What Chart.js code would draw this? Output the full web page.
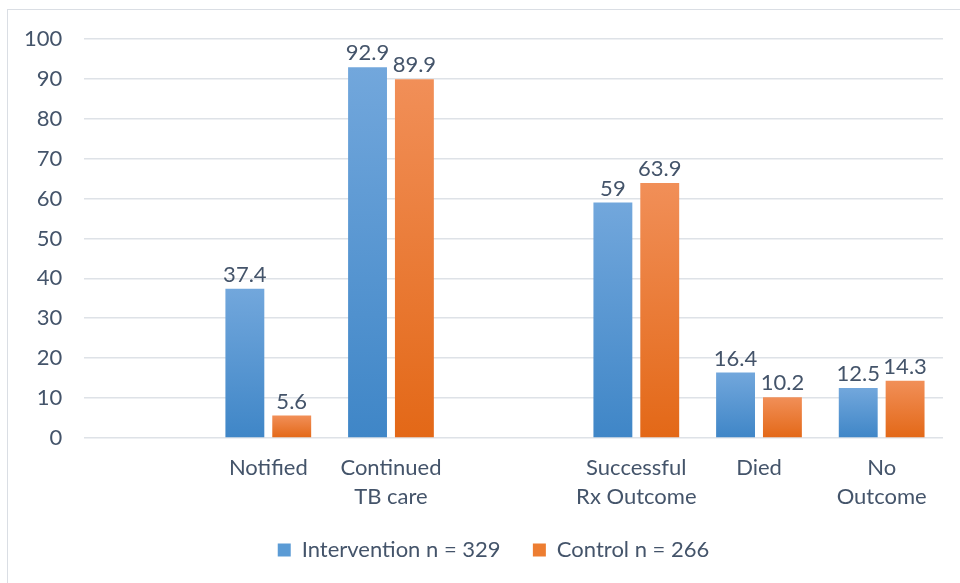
<!DOCTYPE html>
<html>
<head>
<meta charset="utf-8">
<script src="https://cdn.jsdelivr.net/npm/chart.js@4.4.0/dist/chart.umd.min.js"></script>
<style>
  html, body { margin: 0; padding: 0; background: #fff; }
  #frame { position: absolute; left: 7px; top: 9px; width: 1000px; height: 600px; border-top: 1.5px solid #dadee4; border-left: 1.5px solid #dadee4; }
  #wrap { position: absolute; left: 0; top: 0; width: 960px; height: 583px; }
</style>
</head>
<body>
<div id="frame"></div>
<div id="wrap"><canvas id="chart"></canvas></div>
<script>
const categorias = [[''], ['Notified'], ['Continued', 'TB care'], [''], ['Successful', 'Rx Outcome'], ['Died'], ['No', 'Outcome']];
const intervencion = [null, 37.4, 92.9, null, 59, 16.4, 12.5];
const control = [null, 5.6, 89.9, null, 63.9, 10.2, 14.3];
const nombres = ['Intervention n = 329', 'Control n = 266'];

const fuente = 'Lato, "Open Sans", sans-serif';
const textoColor = '#44546A';

function degradado(arriba, abajo) {
    return function (ctx) {
        const chart = ctx.chart;
        if (!chart.chartArea || ctx.parsed == null) return abajo;
        const y = chart.scales.y;
        const top = y.getPixelForValue(ctx.parsed.y);
        const bottom = y.getPixelForValue(0);
        if (!isFinite(top) || top === bottom) return abajo;
        const g = chart.ctx.createLinearGradient(0, top, 0, bottom);
        g.addColorStop(0, arriba);
        g.addColorStop(1, abajo);
        return g;
    };
}

// valores encima de cada barra
const etiquetas = {
    id: 'etiquetas',
    afterDatasetsDraw(chart) {
        const c = chart.ctx;
        c.save();
        c.font = '22px ' + fuente;
        c.fillStyle = textoColor;
        c.textAlign = 'center';
        c.textBaseline = 'bottom';
        chart.data.datasets.forEach((ds, i) => {
            chart.getDatasetMeta(i).data.forEach((bar, j) => {
                const v = ds.data[j];
                if (v == null) return;
                c.fillText(String(v), bar.x, bar.y - 3);
            });
        });
        c.restore();
    }
};

// la leyenda va centrada bajo el area del grafico, no del canvas
const moverLeyenda = {
    id: 'moverLeyenda',
    afterLayout(chart) {
        if (chart.legend) chart.legend.left += 42;
    }
};

new Chart(document.getElementById('chart'), {
    type: 'bar',
    data: {
        labels: categorias,
        datasets: [{
            label: nombres[0],
            data: intervencion,
            backgroundColor: degradado('#72a7dc', '#3f86c7')
        }, {
            label: nombres[1],
            data: control,
            backgroundColor: degradado('#f18f58', '#e36817')
        }]
    },
    options: {
        responsive: true,
        maintainAspectRatio: false,
        animation: false,
        categoryPercentage: 0.764,
        barPercentage: 0.83,
        layout: { padding: { top: 39, right: 17, left: 2, bottom: 12 } },
        plugins: {
            legend: {
                position: 'bottom',
                labels: {
                    color: textoColor,
                    font: { family: fuente, size: 22 },
                    boxWidth: 13,
                    boxHeight: 13,
                    padding: 21,
                    generateLabels(chart) {
                        const cols = ['#5b9bd5', '#ed7d31'];
                        return chart.data.datasets.map((ds, i) => ({
                            text: i === 0 ? ds.label + '  ' : ds.label,
                            fillStyle: cols[i], strokeStyle: cols[i], lineWidth: 0, datasetIndex: i, fontColor: textoColor
                        }));
                    }
                }
            },
            tooltip: { enabled: false }
        },
        scales: {
            x: {
                grid: { display: false },
                border: { display: false },
                ticks: { color: textoColor, font: { family: fuente, size: 22, lineHeight: 1.32 }, maxRotation: 0, autoSkip: false, padding: 7 }
            },
            y: {
                min: 0, max: 100,
                ticks: { stepSize: 10, color: textoColor, font: { family: fuente, size: 22 }, padding: 22 },
                grid: { color: '#dee2e7', lineWidth: 1.5, drawTicks: false },
                border: { display: false }
            }
        }
    },
    plugins: [etiquetas, moverLeyenda]
});
</script>
</body>
</html>
